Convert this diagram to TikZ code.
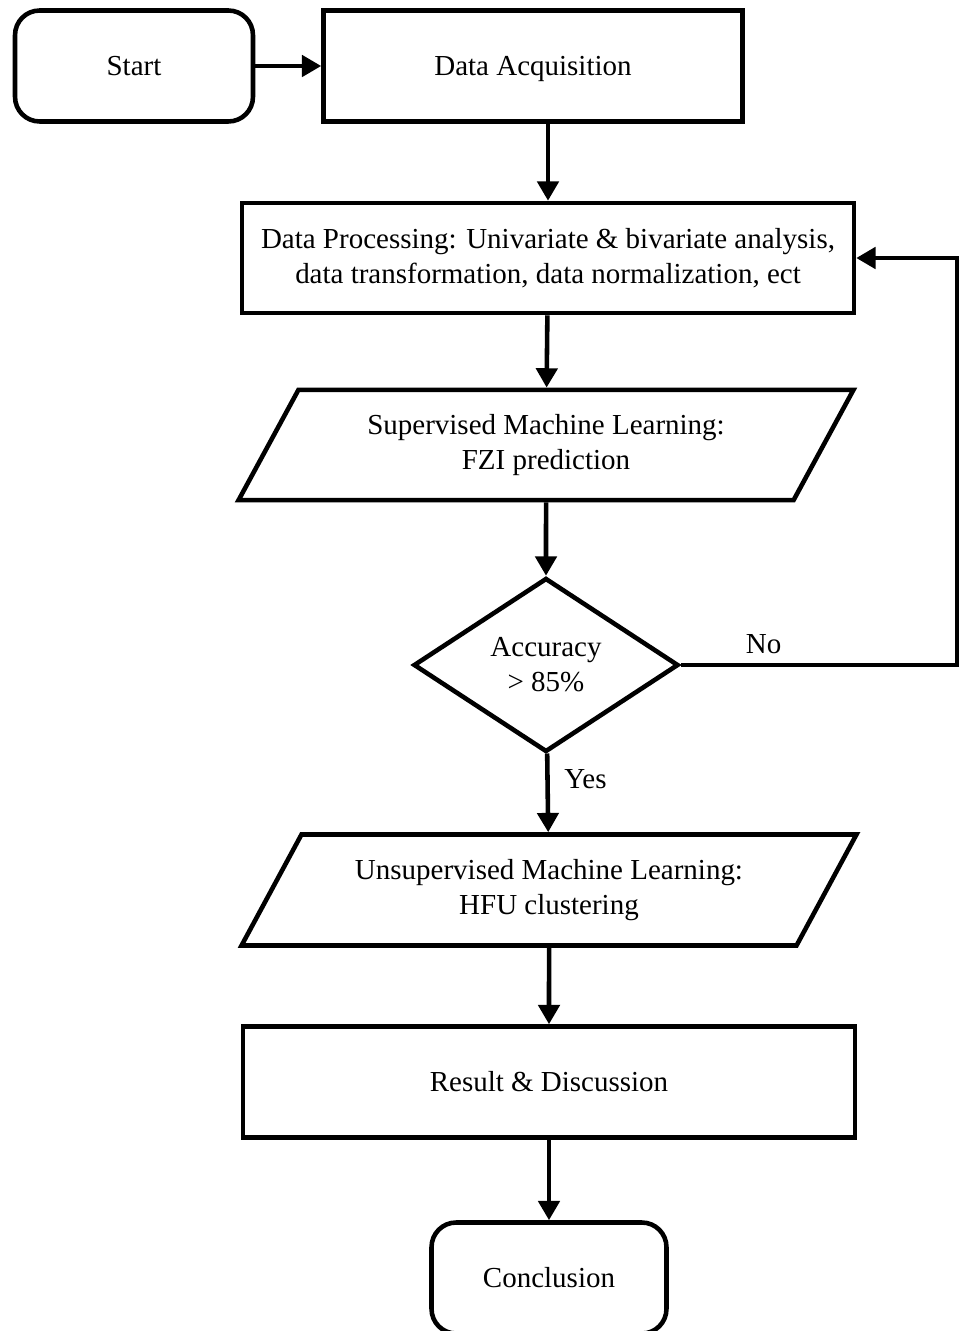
\documentclass[tikz,border=0pt]{standalone}
\usepackage{fontspec}
\setmainfont{Liberation Serif}
\usetikzlibrary{shapes.geometric,arrows.meta}

\begin{document}
\begin{tikzpicture}[x=0.02cm,y=-0.02cm]
        \tikzset{every node/.style={font=\fontsize{16.5}{19.8}\selectfont},
        flowbox/.style={draw, line width=2.6pt, align=center, inner sep=0pt},
        termbox/.style={flowbox, rounded corners=14pt},
        databox/.style={flowbox, trapezium, trapezium left angle=61.5,
          trapezium right angle=118.5, trapezium stretches body=true, inner ysep=14pt},
        testbox/.style={flowbox, diamond, aspect=1.52},
        flowline/.style={line width=2.6pt, -{Triangle[length=11pt,width=12pt]}}}
        \useasboundingbox (0,0) rectangle (959,1331);
        \node[termbox, minimum width=4.76cm, minimum height=2.22cm] (start) at (134,66) {Start};
        \node[flowbox, minimum width=8.38cm, minimum height=2.22cm, text depth=0pt] (acq) at (533,66) {Data Acquisition};
        \node[flowbox, minimum width=12.24cm, minimum height=2.2cm] (proc) at (548,258)
          {Data Processing: Univariate \& bivariate analysis,\\data transformation, data normalization, ect};
        \node[databox, minimum width=12.3cm, minimum height=2.2cm] (sml) at (546,445)
          {Supervised Machine Learning:\\FZI prediction};
        \node[testbox, minimum width=5.3cm, minimum height=3.48cm] (acc) at (546,665) {Accuracy\\> 85\%};
        \node[databox, minimum width=12.3cm, minimum height=2.22cm] (uml) at (549,890)
          {Unsupervised Machine Learning:\\HFU clustering};
        \node[flowbox, minimum width=12.24cm, minimum height=2.22cm] (res) at (549,1082) {Result \& Discussion};
        \node[termbox, minimum width=4.7cm, minimum height=2.22cm] (concl) at (549,1278) {Conclusion};
        \coordinate (back) at (957,665);
        \draw[flowline] (start) -- (acq);
        \draw[flowline] (acq.south -| proc.north) -- (proc.north);
        \draw[flowline] (proc) -- (sml);
        \draw[flowline] (sml) -- (acc);
        \draw[flowline] (acc) -- node[anchor=west, pos=0.33, xshift=5pt] {Yes} (uml);
        \draw[flowline] (uml) -- (res);
        \draw[flowline] (res) -- (concl);
        \draw[flowline] (acc.east) -- node[above, pos=0.3, yshift=2pt] {No} (back) |- (proc.east);
    \end{tikzpicture}
\end{document}
